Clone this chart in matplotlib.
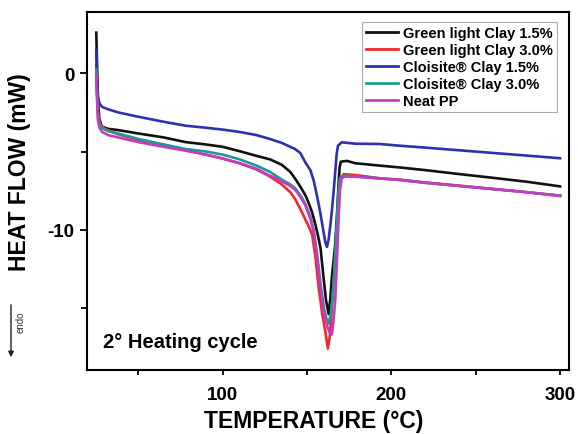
import matplotlib
matplotlib.use("Agg")
import matplotlib.pyplot as plt
from matplotlib.patches import FancyArrowPatch

plt.rcParams['font.family'] = ['Liberation Sans', 'DejaVu Sans']
plt.rcParams['font.weight'] = 'bold'

# ---------------- data ----------------
labels = ["Green light Clay 1.5%", "Green light Clay 3.0%", "Cloisite\u00ae Clay 1.5%",
          "Cloisite\u00ae Clay 3.0%", "Neat PP"]
colors = ["#111111", "#ee2a2a", "#2e30b0", "#1f9a8c", "#c43cc4"]

T_gl15 = [25.0, 25.4, 26.0, 26.8, 28.2, 32, 38, 50, 65, 78, 90, 100, 110, 120, 128, 135, 140, 143,
          146, 149, 151, 153, 155, 156.5, 158, 159.7, 161.2, 162.8, 163.8, 164.7, 165.7, 166.7,
          167.7, 168.6, 169.3, 170.0, 173.6, 178.5, 193, 205, 220, 240, 260, 280, 300]
HF_gl15 = [2.6, 0.8, -1.8, -2.9, -3.4, -3.55, -3.63, -3.85, -4.1, -4.4, -4.55, -4.7, -4.98, -5.28,
           -5.5, -5.85, -6.3, -6.75, -7.25, -7.8, -8.3, -8.9, -9.7, -10.4, -11.2, -13.0, -14.5,
           -15.4, -14.4, -13.0, -12.0, -10.9, -9.1, -7.2, -6.0, -5.65, -5.6, -5.75, -5.9, -6.02,
           -6.19, -6.44, -6.68, -6.93, -7.23]

T_gl30 = [25.0, 25.4, 26.0, 26.8, 27.5, 30, 38, 50, 65, 78, 90, 100, 110, 120, 128, 135, 140, 143,
          147, 151, 153, 155, 157, 159, 160.8, 162.3, 163.5, 165, 166.5, 167.7, 168.7, 169.8,
          171.6, 178.5, 193, 205, 220, 240, 260, 280, 300]
HF_gl30 = [0.5, -1.0, -2.5, -3.1, -3.3, -3.55, -3.9, -4.25, -4.6, -4.9, -5.2, -5.45, -5.75, -6.15,
           -6.6, -7.1, -7.6, -8.05, -8.9, -9.8, -10.3, -11.8, -13.8, -15.4, -16.5, -17.6, -16.8,
           -14.6, -12.0, -10.0, -8.0, -6.7, -6.45, -6.5, -6.71, -6.8, -6.98, -7.18, -7.39, -7.6,
           -7.82]

T_cl15 = [25.0, 25.4, 26.0, 27.0, 28.5, 32, 38, 50, 65, 78, 90, 100, 110, 120, 128, 135, 140, 143,
          146, 149, 152, 154, 156, 157.8, 159.7, 160.8, 161.8, 162.8, 163.7, 164.7, 165.7, 166.7,
          167.5, 168.3, 170.6, 178.5, 193, 205, 220, 240, 260, 280, 300]
HF_cl15 = [1.5, -0.3, -1.5, -1.95, -2.15, -2.3, -2.5, -2.78, -3.1, -3.35, -3.48, -3.6, -3.75,
           -3.95, -4.2, -4.45, -4.7, -4.85, -5.1, -5.7, -6.2, -6.9, -7.9, -8.9, -10.1, -10.8,
           -11.1, -10.6, -9.8, -8.8, -7.6, -6.3, -5.2, -4.63, -4.41, -4.5, -4.52, -4.63, -4.75,
           -4.92, -5.09, -5.26, -5.43]

T_cl30 = [25.0, 25.4, 26.0, 27.0, 28.2, 32, 38, 50, 65, 78, 90, 100, 110, 120, 128, 135, 140, 143,
          146, 149, 152, 154, 156, 158, 160, 161.5, 162.8, 164, 165.2, 166.3, 167.4, 168.4, 169.3,
          170.3, 172.6, 180, 193, 205, 220, 240, 260, 280, 300]
HF_cl30 = [0.27, -1.2, -2.8, -3.3, -3.5, -3.7, -3.85, -4.2, -4.55, -4.84, -5.0, -5.2, -5.5, -5.9,
           -6.3, -6.8, -7.1, -7.35, -7.8, -8.35, -9.2, -10.1, -11.6, -13.5, -15.0, -15.7, -16.0,
           -15.4, -14.2, -12.5, -10.0, -8.0, -6.8, -6.6, -6.55, -6.6, -6.72, -6.82, -7.0, -7.2,
           -7.4, -7.6, -7.82]

T_pp = [25.0, 25.4, 26.0, 27.0, 28.5, 32, 38, 50, 65, 78, 90, 100, 110, 120, 128, 135, 140, 143,
        146, 149, 152, 154, 156, 158, 160, 162, 163.5, 164.7, 165.7, 166.7, 167.7, 168.6, 169.5,
        170.5, 172.6, 180, 193, 205, 220, 240, 260, 280, 300]
HF_pp = [-0.05, -1.5, -3.0, -3.5, -3.75, -3.95, -4.1, -4.4, -4.7, -4.95, -5.2, -5.45, -5.75, -6.1,
         -6.55, -6.9, -7.2, -7.45, -7.9, -8.45, -9.3, -10.2, -11.8, -13.8, -15.3, -16.2, -16.6,
         -16.7, -15.8, -14.5, -12.0, -9.5, -7.5, -6.7, -6.6, -6.62, -6.72, -6.82, -7.0, -7.2,
         -7.4, -7.6, -7.85]

series_T = [T_gl15, T_gl30, T_cl15, T_cl30, T_pp]
series_HF = [HF_gl15, HF_gl30, HF_cl15, HF_cl30, HF_pp]

x_major = [100, 200, 300]
x_minor = [50, 150, 250]
y_major = [0, -10]
y_minor = [-5, -15]

# ---------------- figure ----------------
fig = plt.figure(figsize=(5.78, 4.35), dpi=100)
ax = fig.add_axes([87/578, 1-371/435, (569-87)/578, (371-13)/435])

for T, HF, c, lab in zip(series_T, series_HF, colors, labels):
    ax.plot(T, HF, color=c, lw=1.9, label=lab, solid_joinstyle='round')

ax.set_xlim(19.5, 305.3)
ax.set_ylim(-18.97, 3.92)
ax.set_xticks(x_major)
ax.set_xticks(x_minor, minor=True)
ax.set_yticks(y_major)
ax.set_yticks(y_minor, minor=True)
ax.set_xticklabels([str(v) for v in x_major])
ax.set_yticklabels([str(v) for v in y_major])

for s in ax.spines.values():
    s.set_linewidth(1.5)
ax.tick_params(axis='x', which='both', direction='out', length=3.5, width=1.3,
               labelsize=13.5, pad=8)
ax.tick_params(axis='y', which='major', direction='out', length=5, width=1.3,
               labelsize=13.5, pad=4)
ax.tick_params(axis='y', which='minor', direction='out', length=4, width=1.3)
for lbl in ax.get_xticklabels() + ax.get_yticklabels():
    lbl.set_fontweight('bold')

leg = ax.legend(loc='upper right', bbox_to_anchor=(0.975, 0.972), borderaxespad=0,
                prop={'weight': 'bold', 'size': 10.5}, frameon=True, fancybox=False,
                handlelength=2.2, handletextpad=0.3, labelspacing=0.2, borderpad=0.3)
leg.get_frame().set_edgecolor('#999999')
leg.get_frame().set_linewidth(0.8)
for l in leg.get_lines():
    l.set_linewidth(2.0)

ax.text(0.0326, 0.064, "2\u00b0 Heating cycle", transform=ax.transAxes, fontsize=14.5,
        fontweight='bold', ha='left', va='baseline')

fig.text(314/578, 1-428.5/435, "TEMPERATURE (\u00b0C)", fontsize=16.5, fontweight='bold',
         ha='center', va='baseline')
fig.text(20/578, 1-172.5/435, "HEAT FLOW (mW)", fontsize=16.5, fontweight='bold',
         ha='center', va='center', rotation=90)

# endo arrow
arrow = FancyArrowPatch((11/578, 1-303/435), (11/578, 1-361/435), transform=fig.transFigure,
                        arrowstyle='-|>', mutation_scale=8, lw=1.0, color='#222222')
fig.patches.append(arrow)
fig.text(21/578, 1-322/435, "endo", fontsize=7, fontweight='normal', rotation=90,
         ha='center', va='center', color='#333333')

fig.savefig("out.png", dpi=100)
